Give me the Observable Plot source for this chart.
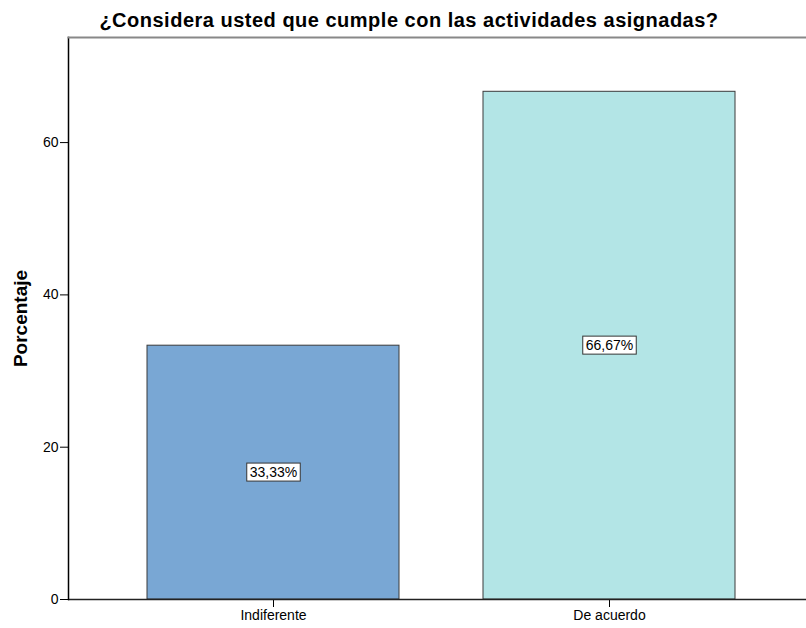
<!DOCTYPE html>
<html><head><meta charset="utf-8">
<script src="https://cdn.jsdelivr.net/npm/d3@7"></script>
<script src="https://cdn.jsdelivr.net/npm/@observablehq/plot@0.6"></script>
<style>
body{margin:0;background:#fff;font-family:"Liberation Sans",Arial,sans-serif;}
#title{box-sizing:border-box;height:30px;padding-top:5px;width:818px;text-align:center;font-weight:bold;font-size:20px;line-height:30px;color:#000;letter-spacing:0.5px;white-space:nowrap;overflow:visible;}
#title span{display:inline-block;line-height:20px;}
</style></head><body>
<div id="title"><span>¿Considera usted que cumple con las actividades asignadas?</span></div>
<div id="chart"></div>
<script>
const categories = ["Indiferente", "De acuerdo"];
const percentages = [33.33, 66.67];
const labels = ["33,33%", "66,67%"];
const colors = ["#79a7d4", "#b3e5e6"];
const yTicks = [0, 20, 40, 60];
const yLabel = "Porcentaje";

const data = categories.map((c, i) => ({category: c, value: percentages[i], label: labels[i]}));

const plot = Plot.plot({
  width: 806, height: 598,
  marginTop: 7, marginBottom: 29, marginLeft: 68, marginRight: 0,
  style: {fontFamily: "Liberation Sans, Arial, sans-serif", fontSize: "14px", color: "#000", background: "#fff", overflow: "visible"},
  x: {domain: categories, range: [68, 814], paddingInner: 0.25, paddingOuter: 0.235},
  y: {domain: [0, 73.8]},
  color: {domain: categories, range: colors},
  marks: [
    Plot.barY(data, {x: "category", y: "value", fill: "category", stroke: "#3a3a3a", strokeWidth: 1}),
    Plot.axisY({ticks: yTicks, tickSize: 8, tickPadding: 2, label: null, fontSize: 14, stroke: "#000"}),
    Plot.axisX({tickSize: 8, tickPadding: 3, label: null, fontSize: 14}),
    Plot.text([yLabel], {frameAnchor: "left", rotate: -90, dx: -48, dy: 0, textAnchor: "middle", fontWeight: "bold", fontSize: 19, text: d => d}),
    Plot.ruleY([0], {stroke: "#222", strokeWidth: 1.5}),
    Plot.frame({anchor: "left", stroke: "#000", strokeWidth: 1.5}),
    Plot.frame({anchor: "top", stroke: "#888", strokeWidth: 2}),
    Plot.text(data, {x: "category", y: d => d.value / 2, text: "label", fontSize: 14, className: "vlabel"})
  ]
});
document.getElementById("chart").appendChild(plot);
document.querySelectorAll("g.vlabel text").forEach(t => {
  const b = t.getBBox();
  const r = document.createElementNS("http://www.w3.org/2000/svg", "rect");
  r.setAttribute("x", b.x - 3);
  r.setAttribute("y", b.y - 1);
  r.setAttribute("width", b.width + 6);
  r.setAttribute("height", b.height + 2);
  r.setAttribute("fill", "#fff");
  r.setAttribute("stroke", "#333");
  r.setAttribute("stroke-width", 1);
  const tr = t.getAttribute("transform");
  if (tr) r.setAttribute("transform", tr);
  t.parentNode.insertBefore(r, t);
});
</script>
</body></html>
